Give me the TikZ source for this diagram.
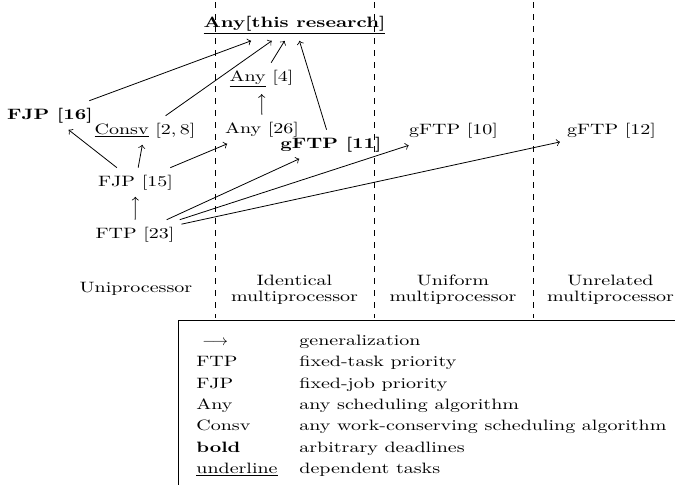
\documentclass[tikz,border=0pt]{standalone}
\usepackage{graphicx}
\newcommand\sq[1]{\scalebox{1}[0.75]{#1}}
\tikzset{
  nd/.style={anchor=base, inner sep=3.33pt},
  gen/.style={->, line width=0.4pt},
  region/.style={dashed, line width=0.4pt},
  area/.style={anchor=north, align=center, inner sep=3.33pt},
  lgt/.style={anchor=base west, inner sep=0pt},
}
\begin{document}
\begin{tikzpicture}[x=0.5pt,y=-0.5pt]
\useasboundingbox (0,0) rectangle (675,484);
\clip (0,0) rectangle (675,484);
% region separators
\foreach \x in {215,374,533} \draw[region] (\x,2) -- (\x,318);
% nodes
\node[nd,font=\bfseries] (top) at (294.5,27) {\sq{\underline{Any[this research]}}};
\node[nd,font=\bfseries] (fjp16) at (50,119) {\sq{FJP [16]}};
\node[nd] (consv) at (145,134) {\sq{\underline{Consv} [2,\,8]}};
\node[nd] (any4) at (261.5,81) {\sq{\underline{Any} [4]}};
\node[nd] (any26) at (262,133) {\sq{Any [26]}};
\node[nd,font=\bfseries] (gftp11) at (331,148) {\sq{gFTP [11]}};
\node[nd] (gftp10) at (453.5,134.5) {\sq{gFTP [10]}};
\node[nd] (gftp12) at (611.5,134.5) {\sq{gFTP [12]}};
\node[nd] (fjp15) at (135.5,186) {\sq{FJP [15]}};
\node[nd] (ftp23) at (135,238) {\sq{FTP [23]}};
% connectors
\draw[gen] (fjp16) -- (top);
\draw[gen] (consv) -- (top);
\draw[gen] (any4) -- (top);
\draw[gen] (gftp11) -- (top);
\draw[gen] (any26) -- (any4);
\draw[gen] (fjp15) -- (fjp16);
\draw[gen] (fjp15) -- (consv);
\draw[gen] (fjp15) -- (any26);
\draw[gen] (ftp23) -- (fjp15);
\draw[gen] (ftp23) -- (gftp11);
\draw[gen] (ftp23) -- (gftp10);
\draw[gen] (ftp23) -- (gftp12);
% region labels
\node[nd] (uni) at (136,292) {\sq{Uniprocessor}};
\node[area] (ident) at (294.5,268) {\sq{Identical}\\[-4pt]\sq{multiprocessor}};
\node[area] (unif) at (453,268) {\sq{Uniform}\\[-4pt]\sq{multiprocessor}};
\node[area] (unrel) at (610.5,268) {\sq{Unrelated}\\[-4pt]\sq{multiprocessor}};
% legend
\draw[line width=0.4pt] (178,320) rectangle (730,540);
\node[lgt] (k1) at (202,345.5) {\scalebox{0.8}[0.75]{$\longrightarrow$}};
\node[lgt] (v1) at (299,345.5) {\sq{generalization}};
\node[lgt] (k2) at (196,366.8) {\sq{FTP}};
\node[lgt] (v2) at (299,366.8) {\sq{fixed-task priority}};
\node[lgt] (k3) at (196,388) {\sq{FJP}};
\node[lgt] (v3) at (299,388) {\sq{fixed-job priority}};
\node[lgt] (k4) at (196,409.3) {\sq{Any}};
\node[lgt] (v4) at (299,409.3) {\sq{any scheduling algorithm}};
\node[lgt] (k5) at (196,430.6) {\sq{Consv}};
\node[lgt] (v5) at (299,430.6) {\sq{any work-conserving scheduling algorithm}};
\node[lgt] (k6) at (196,452) {\sq{\textbf{bold}}};
\node[lgt] (v6) at (299,452) {\sq{arbitrary deadlines}};
\node[lgt] (k7) at (196,473.2) {\sq{\underline{underline}}};
\node[lgt] (v7) at (299,473.2) {\sq{dependent tasks}};
\end{tikzpicture}
\end{document}
